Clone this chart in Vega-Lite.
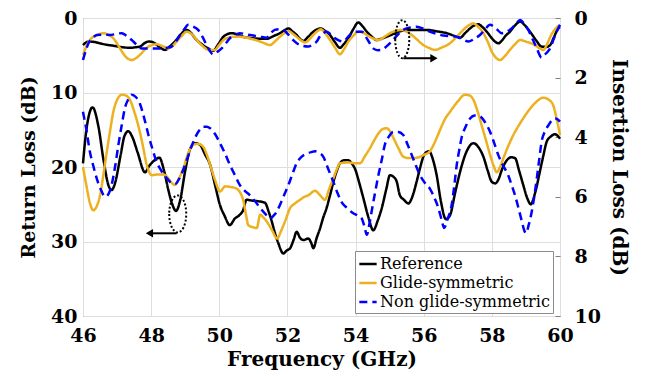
{
  "$schema": "https://vega.github.io/schema/vega-lite/v6.json",
  "width": 477,
  "height": 298,
  "autosize": {"type": "none"},
  "padding": {"left": 83, "top": 18, "right": 88, "bottom": 61},
  "background": "white",
  "config": {
    "font": "DejaVu Serif",
    "view": {"stroke": "#6f6f6f", "strokeWidth": 1},
    "axis": {
      "labelFont": "DejaVu Serif",
      "labelFontWeight": "bold",
      "labelFontSize": 19,
      "labelColor": "#000000",
      "labelFlush": false,
      "titleFont": "DejaVu Serif",
      "titleFontWeight": "bold",
      "titleFontSize": 20,
      "titleColor": "#000000",
      "domain": false,
      "gridColor": "#dedede",
      "gridWidth": 1,
      "gridOpacity": 1,
      "tickColor": "#7f7f7f"
    },
    "legend": {
      "labelFont": "DejaVu Serif",
      "labelFontSize": 16,
      "labelColor": "#000000",
      "labelLimit": 400,
      "symbolType": "stroke",
      "symbolSize": 300,
      "symbolStrokeWidth": 2.5,
      "rowPadding": 1,
      "padding": 3,
      "strokeColor": "#8c8c8c",
      "fillColor": "white",
      "labelOffset": 2
    }
  },
  "datasets": {
    "rl": [
      {"f":46.0,"v":19.5,"s":"Reference"},{"f":46.1,"v":15,"s":"Reference"},{"f":46.28,"v":12.0,"s":"Reference"},{"f":46.45,"v":14.5,"s":"Reference"},{"f":46.6,"v":19,"s":"Reference"},{"f":46.75,"v":22.5,"s":"Reference"},{"f":46.84,"v":23.1,"s":"Reference"},{"f":46.95,"v":22,"s":"Reference"},{"f":47.1,"v":18.5,"s":"Reference"},{"f":47.22,"v":15.8,"s":"Reference"},{"f":47.33,"v":15.2,"s":"Reference"},{"f":47.45,"v":16,"s":"Reference"},{"f":47.6,"v":18,"s":"Reference"},{"f":47.82,"v":20.7,"s":"Reference"},{"f":47.95,"v":19.8,"s":"Reference"},{"f":48.1,"v":19.1,"s":"Reference"},{"f":48.24,"v":18.75,"s":"Reference"},{"f":48.38,"v":20.5,"s":"Reference"},{"f":48.5,"v":23,"s":"Reference"},{"f":48.62,"v":25,"s":"Reference"},{"f":48.73,"v":25.9,"s":"Reference"},{"f":48.85,"v":24.5,"s":"Reference"},{"f":49.0,"v":20.5,"s":"Reference"},{"f":49.15,"v":17.5,"s":"Reference"},{"f":49.29,"v":16.8,"s":"Reference"},{"f":49.43,"v":17,"s":"Reference"},{"f":49.58,"v":18.3,"s":"Reference"},{"f":49.73,"v":19.7,"s":"Reference"},{"f":49.88,"v":22.5,"s":"Reference"},{"f":50.02,"v":25.1,"s":"Reference"},{"f":50.15,"v":26.5,"s":"Reference"},{"f":50.31,"v":27.8,"s":"Reference"},{"f":50.46,"v":26.9,"s":"Reference"},{"f":50.58,"v":26.5,"s":"Reference"},{"f":50.7,"v":25.8,"s":"Reference"},{"f":50.8,"v":24.4,"s":"Reference"},{"f":50.95,"v":24.5,"s":"Reference"},{"f":51.15,"v":24.6,"s":"Reference"},{"f":51.34,"v":24.8,"s":"Reference"},{"f":51.45,"v":26,"s":"Reference"},{"f":51.54,"v":27.3,"s":"Reference"},{"f":51.63,"v":28.8,"s":"Reference"},{"f":51.73,"v":30.2,"s":"Reference"},{"f":51.88,"v":31.6,"s":"Reference"},{"f":51.98,"v":31.2,"s":"Reference"},{"f":52.08,"v":30.9,"s":"Reference"},{"f":52.18,"v":29.8,"s":"Reference"},{"f":52.27,"v":28.7,"s":"Reference"},{"f":52.37,"v":29.5,"s":"Reference"},{"f":52.47,"v":29.8,"s":"Reference"},{"f":52.61,"v":29.6,"s":"Reference"},{"f":52.7,"v":30.2,"s":"Reference"},{"f":52.76,"v":30.9,"s":"Reference"},{"f":52.86,"v":29.5,"s":"Reference"},{"f":52.96,"v":28.2,"s":"Reference"},{"f":53.05,"v":26.8,"s":"Reference"},{"f":53.15,"v":25.5,"s":"Reference"},{"f":53.25,"v":23.8,"s":"Reference"},{"f":53.35,"v":22,"s":"Reference"},{"f":53.45,"v":20.5,"s":"Reference"},{"f":53.54,"v":19.5,"s":"Reference"},{"f":53.66,"v":19.1,"s":"Reference"},{"f":53.79,"v":19.1,"s":"Reference"},{"f":53.9,"v":19.6,"s":"Reference"},{"f":53.98,"v":20.2,"s":"Reference"},{"f":54.1,"v":22,"s":"Reference"},{"f":54.23,"v":24.2,"s":"Reference"},{"f":54.38,"v":26.8,"s":"Reference"},{"f":54.52,"v":28.5,"s":"Reference"},{"f":54.65,"v":27.2,"s":"Reference"},{"f":54.77,"v":25.5,"s":"Reference"},{"f":54.9,"v":23,"s":"Reference"},{"f":55.01,"v":21.1,"s":"Reference"},{"f":55.11,"v":21.3,"s":"Reference"},{"f":55.21,"v":22,"s":"Reference"},{"f":55.3,"v":23.8,"s":"Reference"},{"f":55.42,"v":24.4,"s":"Reference"},{"f":55.55,"v":24.9,"s":"Reference"},{"f":55.68,"v":23.8,"s":"Reference"},{"f":55.79,"v":22,"s":"Reference"},{"f":55.9,"v":20,"s":"Reference"},{"f":55.99,"v":18.6,"s":"Reference"},{"f":56.08,"v":18,"s":"Reference"},{"f":56.16,"v":17.9,"s":"Reference"},{"f":56.27,"v":19,"s":"Reference"},{"f":56.38,"v":21.1,"s":"Reference"},{"f":56.5,"v":24.5,"s":"Reference"},{"f":56.65,"v":27,"s":"Reference"},{"f":56.77,"v":26.5,"s":"Reference"},{"f":56.92,"v":23.5,"s":"Reference"},{"f":57.07,"v":20.6,"s":"Reference"},{"f":57.25,"v":18,"s":"Reference"},{"f":57.46,"v":16.8,"s":"Reference"},{"f":57.6,"v":17.3,"s":"Reference"},{"f":57.75,"v":18.6,"s":"Reference"},{"f":57.88,"v":20.5,"s":"Reference"},{"f":58.0,"v":22,"s":"Reference"},{"f":58.1,"v":22.2,"s":"Reference"},{"f":58.19,"v":21.7,"s":"Reference"},{"f":58.3,"v":20.3,"s":"Reference"},{"f":58.44,"v":19.1,"s":"Reference"},{"f":58.56,"v":18.7,"s":"Reference"},{"f":58.68,"v":18.8,"s":"Reference"},{"f":58.8,"v":20.5,"s":"Reference"},{"f":58.92,"v":22.4,"s":"Reference"},{"f":59.04,"v":24.2,"s":"Reference"},{"f":59.14,"v":25.0,"s":"Reference"},{"f":59.28,"v":23.3,"s":"Reference"},{"f":59.41,"v":20.6,"s":"Reference"},{"f":59.51,"v":18.5,"s":"Reference"},{"f":59.61,"v":16.6,"s":"Reference"},{"f":59.73,"v":15.9,"s":"Reference"},{"f":59.85,"v":15.6,"s":"Reference"},{"f":60.0,"v":16.2,"s":"Reference"},

      {"f":46.0,"v":20,"s":"Glide-symmetric"},{"f":46.1,"v":22.5,"s":"Glide-symmetric"},{"f":46.2,"v":24.8,"s":"Glide-symmetric"},{"f":46.3,"v":25.8,"s":"Glide-symmetric"},{"f":46.4,"v":25.3,"s":"Glide-symmetric"},{"f":46.5,"v":23.8,"s":"Glide-symmetric"},{"f":46.6,"v":21,"s":"Glide-symmetric"},{"f":46.7,"v":17.9,"s":"Glide-symmetric"},{"f":46.8,"v":15,"s":"Glide-symmetric"},{"f":46.89,"v":12.6,"s":"Glide-symmetric"},{"f":47.0,"v":11,"s":"Glide-symmetric"},{"f":47.14,"v":10.3,"s":"Glide-symmetric"},{"f":47.26,"v":10.4,"s":"Glide-symmetric"},{"f":47.38,"v":11,"s":"Glide-symmetric"},{"f":47.5,"v":12.5,"s":"Glide-symmetric"},{"f":47.62,"v":14.4,"s":"Glide-symmetric"},{"f":47.75,"v":17,"s":"Glide-symmetric"},{"f":47.87,"v":19.7,"s":"Glide-symmetric"},{"f":48.02,"v":21.1,"s":"Glide-symmetric"},{"f":48.2,"v":21.0,"s":"Glide-symmetric"},{"f":48.36,"v":21.0,"s":"Glide-symmetric"},{"f":48.5,"v":21.5,"s":"Glide-symmetric"},{"f":48.6,"v":22.1,"s":"Glide-symmetric"},{"f":48.7,"v":22.4,"s":"Glide-symmetric"},{"f":48.82,"v":21.5,"s":"Glide-symmetric"},{"f":48.94,"v":20.2,"s":"Glide-symmetric"},{"f":49.1,"v":18,"s":"Glide-symmetric"},{"f":49.24,"v":17,"s":"Glide-symmetric"},{"f":49.38,"v":16.9,"s":"Glide-symmetric"},{"f":49.53,"v":17.3,"s":"Glide-symmetric"},{"f":49.63,"v":18.3,"s":"Glide-symmetric"},{"f":49.73,"v":19.7,"s":"Glide-symmetric"},{"f":49.88,"v":21.8,"s":"Glide-symmetric"},{"f":50.02,"v":23.3,"s":"Glide-symmetric"},{"f":50.17,"v":22.6,"s":"Glide-symmetric"},{"f":50.35,"v":22.7,"s":"Glide-symmetric"},{"f":50.51,"v":22.9,"s":"Glide-symmetric"},{"f":50.62,"v":23.5,"s":"Glide-symmetric"},{"f":50.7,"v":24.4,"s":"Glide-symmetric"},{"f":50.78,"v":26.3,"s":"Glide-symmetric"},{"f":50.85,"v":27.8,"s":"Glide-symmetric"},{"f":51.0,"v":28.1,"s":"Glide-symmetric"},{"f":51.1,"v":28.2,"s":"Glide-symmetric"},{"f":51.2,"v":26.4,"s":"Glide-symmetric"},{"f":51.3,"v":26.8,"s":"Glide-symmetric"},{"f":51.39,"v":27.3,"s":"Glide-symmetric"},{"f":51.55,"v":28.5,"s":"Glide-symmetric"},{"f":51.7,"v":29.6,"s":"Glide-symmetric"},{"f":51.82,"v":28.5,"s":"Glide-symmetric"},{"f":51.93,"v":27.3,"s":"Glide-symmetric"},{"f":52.08,"v":25.5,"s":"Glide-symmetric"},{"f":52.22,"v":24.9,"s":"Glide-symmetric"},{"f":52.37,"v":24.4,"s":"Glide-symmetric"},{"f":52.5,"v":24.0,"s":"Glide-symmetric"},{"f":52.61,"v":23.8,"s":"Glide-symmetric"},{"f":52.81,"v":23.2,"s":"Glide-symmetric"},{"f":52.96,"v":23.8,"s":"Glide-symmetric"},{"f":53.1,"v":24.4,"s":"Glide-symmetric"},{"f":53.22,"v":23,"s":"Glide-symmetric"},{"f":53.35,"v":21.5,"s":"Glide-symmetric"},{"f":53.45,"v":20.3,"s":"Glide-symmetric"},{"f":53.54,"v":19.5,"s":"Glide-symmetric"},{"f":53.79,"v":19.4,"s":"Glide-symmetric"},{"f":54.0,"v":19.5,"s":"Glide-symmetric"},{"f":54.13,"v":19.5,"s":"Glide-symmetric"},{"f":54.28,"v":18.5,"s":"Glide-symmetric"},{"f":54.42,"v":17.5,"s":"Glide-symmetric"},{"f":54.55,"v":16.4,"s":"Glide-symmetric"},{"f":54.67,"v":15.5,"s":"Glide-symmetric"},{"f":54.8,"v":14.9,"s":"Glide-symmetric"},{"f":54.91,"v":14.8,"s":"Glide-symmetric"},{"f":55.01,"v":15.2,"s":"Glide-symmetric"},{"f":55.11,"v":16.1,"s":"Glide-symmetric"},{"f":55.25,"v":17.4,"s":"Glide-symmetric"},{"f":55.4,"v":18.6,"s":"Glide-symmetric"},{"f":55.55,"v":18.8,"s":"Glide-symmetric"},{"f":55.69,"v":18.8,"s":"Glide-symmetric"},{"f":55.85,"v":18.7,"s":"Glide-symmetric"},{"f":55.99,"v":18.4,"s":"Glide-symmetric"},{"f":56.18,"v":17.9,"s":"Glide-symmetric"},{"f":56.28,"v":17.1,"s":"Glide-symmetric"},{"f":56.38,"v":16.1,"s":"Glide-symmetric"},{"f":56.5,"v":14.8,"s":"Glide-symmetric"},{"f":56.62,"v":13.6,"s":"Glide-symmetric"},{"f":56.77,"v":12.6,"s":"Glide-symmetric"},{"f":57.0,"v":11.2,"s":"Glide-symmetric"},{"f":57.21,"v":10.3,"s":"Glide-symmetric"},{"f":57.35,"v":10.4,"s":"Glide-symmetric"},{"f":57.46,"v":11,"s":"Glide-symmetric"},{"f":57.58,"v":12.5,"s":"Glide-symmetric"},{"f":57.7,"v":14.4,"s":"Glide-symmetric"},{"f":57.82,"v":16.3,"s":"Glide-symmetric"},{"f":57.95,"v":18.4,"s":"Glide-symmetric"},{"f":58.05,"v":19.8,"s":"Glide-symmetric"},{"f":58.14,"v":20.7,"s":"Glide-symmetric"},{"f":58.24,"v":20,"s":"Glide-symmetric"},{"f":58.34,"v":18.8,"s":"Glide-symmetric"},{"f":58.48,"v":17.2,"s":"Glide-symmetric"},{"f":58.63,"v":15.7,"s":"Glide-symmetric"},{"f":58.82,"v":14.2,"s":"Glide-symmetric"},{"f":59.02,"v":12.8,"s":"Glide-symmetric"},{"f":59.25,"v":11.5,"s":"Glide-symmetric"},{"f":59.51,"v":10.7,"s":"Glide-symmetric"},{"f":59.68,"v":11,"s":"Glide-symmetric"},{"f":59.8,"v":11.7,"s":"Glide-symmetric"},{"f":59.9,"v":13.5,"s":"Glide-symmetric"},{"f":60.0,"v":15.7,"s":"Glide-symmetric"},

      {"f":46.0,"v":12.6,"s":"Non glide-symmetric"},{"f":46.1,"v":15,"s":"Non glide-symmetric"},{"f":46.2,"v":17.9,"s":"Non glide-symmetric"},{"f":46.3,"v":19.8,"s":"Non glide-symmetric"},{"f":46.4,"v":21.5,"s":"Non glide-symmetric"},{"f":46.52,"v":23,"s":"Non glide-symmetric"},{"f":46.65,"v":24,"s":"Non glide-symmetric"},{"f":46.75,"v":23.6,"s":"Non glide-symmetric"},{"f":46.84,"v":22.4,"s":"Non glide-symmetric"},{"f":46.94,"v":20,"s":"Non glide-symmetric"},{"f":47.04,"v":17,"s":"Non glide-symmetric"},{"f":47.14,"v":14.3,"s":"Non glide-symmetric"},{"f":47.23,"v":12.1,"s":"Non glide-symmetric"},{"f":47.33,"v":10.9,"s":"Non glide-symmetric"},{"f":47.43,"v":10.3,"s":"Non glide-symmetric"},{"f":47.55,"v":10.6,"s":"Non glide-symmetric"},{"f":47.67,"v":11.5,"s":"Non glide-symmetric"},{"f":47.8,"v":13.5,"s":"Non glide-symmetric"},{"f":47.92,"v":15.7,"s":"Non glide-symmetric"},{"f":48.04,"v":17.6,"s":"Non glide-symmetric"},{"f":48.16,"v":19.3,"s":"Non glide-symmetric"},{"f":48.3,"v":20.5,"s":"Non glide-symmetric"},{"f":48.46,"v":21.5,"s":"Non glide-symmetric"},{"f":48.58,"v":22.1,"s":"Non glide-symmetric"},{"f":48.7,"v":22.3,"s":"Non glide-symmetric"},{"f":48.82,"v":21.6,"s":"Non glide-symmetric"},{"f":48.94,"v":20.4,"s":"Non glide-symmetric"},{"f":49.08,"v":18.6,"s":"Non glide-symmetric"},{"f":49.24,"v":16.6,"s":"Non glide-symmetric"},{"f":49.38,"v":15.3,"s":"Non glide-symmetric"},{"f":49.53,"v":14.6,"s":"Non glide-symmetric"},{"f":49.63,"v":14.6,"s":"Non glide-symmetric"},{"f":49.73,"v":14.8,"s":"Non glide-symmetric"},{"f":49.88,"v":15.6,"s":"Non glide-symmetric"},{"f":50.02,"v":16.8,"s":"Non glide-symmetric"},{"f":50.17,"v":18.2,"s":"Non glide-symmetric"},{"f":50.31,"v":19.7,"s":"Non glide-symmetric"},{"f":50.46,"v":21.1,"s":"Non glide-symmetric"},{"f":50.6,"v":22.4,"s":"Non glide-symmetric"},{"f":50.75,"v":23.2,"s":"Non glide-symmetric"},{"f":50.9,"v":23.8,"s":"Non glide-symmetric"},{"f":51.05,"v":24.6,"s":"Non glide-symmetric"},{"f":51.2,"v":25.5,"s":"Non glide-symmetric"},{"f":51.35,"v":26.3,"s":"Non glide-symmetric"},{"f":51.49,"v":26.9,"s":"Non glide-symmetric"},{"f":51.6,"v":26.5,"s":"Non glide-symmetric"},{"f":51.7,"v":25.9,"s":"Non glide-symmetric"},{"f":51.78,"v":25.1,"s":"Non glide-symmetric"},{"f":51.9,"v":23.8,"s":"Non glide-symmetric"},{"f":52.03,"v":22.4,"s":"Non glide-symmetric"},{"f":52.15,"v":20.9,"s":"Non glide-symmetric"},{"f":52.27,"v":19.5,"s":"Non glide-symmetric"},{"f":52.42,"v":18.6,"s":"Non glide-symmetric"},{"f":52.57,"v":18.2,"s":"Non glide-symmetric"},{"f":52.7,"v":18,"s":"Non glide-symmetric"},{"f":52.81,"v":17.9,"s":"Non glide-symmetric"},{"f":52.93,"v":18.1,"s":"Non glide-symmetric"},{"f":53.05,"v":18.6,"s":"Non glide-symmetric"},{"f":53.2,"v":20.3,"s":"Non glide-symmetric"},{"f":53.35,"v":22,"s":"Non glide-symmetric"},{"f":53.47,"v":23.5,"s":"Non glide-symmetric"},{"f":53.59,"v":24.7,"s":"Non glide-symmetric"},{"f":53.75,"v":25.5,"s":"Non glide-symmetric"},{"f":53.93,"v":26.2,"s":"Non glide-symmetric"},{"f":54.05,"v":26.5,"s":"Non glide-symmetric"},{"f":54.18,"v":26.9,"s":"Non glide-symmetric"},{"f":54.26,"v":28,"s":"Non glide-symmetric"},{"f":54.33,"v":29.1,"s":"Non glide-symmetric"},{"f":54.4,"v":27.8,"s":"Non glide-symmetric"},{"f":54.47,"v":26,"s":"Non glide-symmetric"},{"f":54.57,"v":23.5,"s":"Non glide-symmetric"},{"f":54.67,"v":21.1,"s":"Non glide-symmetric"},{"f":54.77,"v":19,"s":"Non glide-symmetric"},{"f":54.86,"v":17,"s":"Non glide-symmetric"},{"f":54.98,"v":15.9,"s":"Non glide-symmetric"},{"f":55.11,"v":15.3,"s":"Non glide-symmetric"},{"f":55.25,"v":15.3,"s":"Non glide-symmetric"},{"f":55.4,"v":15.7,"s":"Non glide-symmetric"},{"f":55.52,"v":16.9,"s":"Non glide-symmetric"},{"f":55.65,"v":18.4,"s":"Non glide-symmetric"},{"f":55.77,"v":19.8,"s":"Non glide-symmetric"},{"f":55.89,"v":21.1,"s":"Non glide-symmetric"},{"f":56.03,"v":22.1,"s":"Non glide-symmetric"},{"f":56.18,"v":22.9,"s":"Non glide-symmetric"},{"f":56.3,"v":24,"s":"Non glide-symmetric"},{"f":56.43,"v":25.5,"s":"Non glide-symmetric"},{"f":56.52,"v":27,"s":"Non glide-symmetric"},{"f":56.6,"v":28.2,"s":"Non glide-symmetric"},{"f":56.7,"v":27,"s":"Non glide-symmetric"},{"f":56.82,"v":25.1,"s":"Non glide-symmetric"},{"f":56.9,"v":22.4,"s":"Non glide-symmetric"},{"f":56.97,"v":19.7,"s":"Non glide-symmetric"},{"f":57.04,"v":17.8,"s":"Non glide-symmetric"},{"f":57.11,"v":16.1,"s":"Non glide-symmetric"},{"f":57.23,"v":14.6,"s":"Non glide-symmetric"},{"f":57.36,"v":13.5,"s":"Non glide-symmetric"},{"f":57.5,"v":13.1,"s":"Non glide-symmetric"},{"f":57.65,"v":13.2,"s":"Non glide-symmetric"},{"f":57.8,"v":14,"s":"Non glide-symmetric"},{"f":57.95,"v":15.3,"s":"Non glide-symmetric"},{"f":58.07,"v":16.8,"s":"Non glide-symmetric"},{"f":58.19,"v":18.4,"s":"Non glide-symmetric"},{"f":58.33,"v":19.8,"s":"Non glide-symmetric"},{"f":58.48,"v":21.1,"s":"Non glide-symmetric"},{"f":58.58,"v":22.4,"s":"Non glide-symmetric"},{"f":58.68,"v":23.8,"s":"Non glide-symmetric"},{"f":58.78,"v":25.5,"s":"Non glide-symmetric"},{"f":58.88,"v":27.3,"s":"Non glide-symmetric"},{"f":58.95,"v":28.5,"s":"Non glide-symmetric"},{"f":59.0,"v":28.9,"s":"Non glide-symmetric"},{"f":59.08,"v":27.8,"s":"Non glide-symmetric"},{"f":59.17,"v":26,"s":"Non glide-symmetric"},{"f":59.25,"v":23.8,"s":"Non glide-symmetric"},{"f":59.32,"v":21.5,"s":"Non glide-symmetric"},{"f":59.39,"v":19,"s":"Non glide-symmetric"},{"f":59.46,"v":16.6,"s":"Non glide-symmetric"},{"f":59.56,"v":15.2,"s":"Non glide-symmetric"},{"f":59.66,"v":14.4,"s":"Non glide-symmetric"},{"f":59.75,"v":13.8,"s":"Non glide-symmetric"},{"f":59.85,"v":13.5,"s":"Non glide-symmetric"},{"f":59.93,"v":13.6,"s":"Non glide-symmetric"},{"f":60.0,"v":13.9,"s":"Non glide-symmetric"}
    ],
    "il": [
      {"f":46.0,"v":0.91,"s":"Reference"},{"f":46.08,"v":0.83,"s":"Reference"},{"f":46.16,"v":0.79,"s":"Reference"},{"f":46.3,"v":0.8,"s":"Reference"},{"f":46.5,"v":0.85,"s":"Reference"},{"f":46.7,"v":0.9,"s":"Reference"},{"f":46.89,"v":0.93,"s":"Reference"},{"f":47.1,"v":0.97,"s":"Reference"},{"f":47.38,"v":1.0,"s":"Reference"},{"f":47.55,"v":0.98,"s":"Reference"},{"f":47.67,"v":0.96,"s":"Reference"},{"f":47.8,"v":0.85,"s":"Reference"},{"f":47.92,"v":0.79,"s":"Reference"},{"f":48.02,"v":0.8,"s":"Reference"},{"f":48.11,"v":0.85,"s":"Reference"},{"f":48.25,"v":0.98,"s":"Reference"},{"f":48.41,"v":1.07,"s":"Reference"},{"f":48.55,"v":0.95,"s":"Reference"},{"f":48.7,"v":0.79,"s":"Reference"},{"f":48.87,"v":0.55,"s":"Reference"},{"f":49.04,"v":0.40,"s":"Reference"},{"f":49.17,"v":0.5,"s":"Reference"},{"f":49.29,"v":0.68,"s":"Reference"},{"f":49.45,"v":0.85,"s":"Reference"},{"f":49.58,"v":0.96,"s":"Reference"},{"f":49.7,"v":1.04,"s":"Reference"},{"f":49.82,"v":1.1,"s":"Reference"},{"f":49.97,"v":0.88,"s":"Reference"},{"f":50.12,"v":0.63,"s":"Reference"},{"f":50.24,"v":0.54,"s":"Reference"},{"f":50.36,"v":0.51,"s":"Reference"},{"f":50.55,"v":0.56,"s":"Reference"},{"f":50.7,"v":0.63,"s":"Reference"},{"f":50.9,"v":0.67,"s":"Reference"},{"f":51.1,"v":0.69,"s":"Reference"},{"f":51.39,"v":0.70,"s":"Reference"},{"f":51.6,"v":0.6,"s":"Reference"},{"f":51.78,"v":0.51,"s":"Reference"},{"f":51.9,"v":0.42,"s":"Reference"},{"f":52.03,"v":0.35,"s":"Reference"},{"f":52.15,"v":0.45,"s":"Reference"},{"f":52.27,"v":0.57,"s":"Reference"},{"f":52.37,"v":0.7,"s":"Reference"},{"f":52.47,"v":0.77,"s":"Reference"},{"f":52.6,"v":0.64,"s":"Reference"},{"f":52.76,"v":0.46,"s":"Reference"},{"f":52.88,"v":0.38,"s":"Reference"},{"f":52.98,"v":0.35,"s":"Reference"},{"f":53.1,"v":0.43,"s":"Reference"},{"f":53.25,"v":0.57,"s":"Reference"},{"f":53.4,"v":0.82,"s":"Reference"},{"f":53.54,"v":1.0,"s":"Reference"},{"f":53.66,"v":0.87,"s":"Reference"},{"f":53.79,"v":0.68,"s":"Reference"},{"f":53.93,"v":0.38,"s":"Reference"},{"f":54.08,"v":0.15,"s":"Reference"},{"f":54.2,"v":0.27,"s":"Reference"},{"f":54.33,"v":0.46,"s":"Reference"},{"f":54.48,"v":0.63,"s":"Reference"},{"f":54.62,"v":0.74,"s":"Reference"},{"f":54.77,"v":0.69,"s":"Reference"},{"f":54.91,"v":0.63,"s":"Reference"},{"f":55.1,"v":0.54,"s":"Reference"},{"f":55.26,"v":0.46,"s":"Reference"},{"f":55.5,"v":0.40,"s":"Reference"},{"f":55.8,"v":0.40,"s":"Reference"},{"f":56.09,"v":0.40,"s":"Reference"},{"f":56.4,"v":0.45,"s":"Reference"},{"f":56.68,"v":0.51,"s":"Reference"},{"f":56.9,"v":0.6,"s":"Reference"},{"f":57.07,"v":0.66,"s":"Reference"},{"f":57.22,"v":0.5,"s":"Reference"},{"f":57.36,"v":0.35,"s":"Reference"},{"f":57.48,"v":0.25,"s":"Reference"},{"f":57.6,"v":0.21,"s":"Reference"},{"f":57.72,"v":0.3,"s":"Reference"},{"f":57.85,"v":0.46,"s":"Reference"},{"f":58.0,"v":0.68,"s":"Reference"},{"f":58.1,"v":0.8,"s":"Reference"},{"f":58.19,"v":0.85,"s":"Reference"},{"f":58.3,"v":0.75,"s":"Reference"},{"f":58.4,"v":0.6,"s":"Reference"},{"f":58.53,"v":0.46,"s":"Reference"},{"f":58.68,"v":0.25,"s":"Reference"},{"f":58.83,"v":0.12,"s":"Reference"},{"f":58.97,"v":0.25,"s":"Reference"},{"f":59.12,"v":0.46,"s":"Reference"},{"f":59.3,"v":0.75,"s":"Reference"},{"f":59.46,"v":0.96,"s":"Reference"},{"f":59.6,"v":0.97,"s":"Reference"},{"f":59.71,"v":0.91,"s":"Reference"},{"f":59.82,"v":0.65,"s":"Reference"},{"f":59.95,"v":0.35,"s":"Reference"},{"f":60.0,"v":0.3,"s":"Reference"},

      {"f":46.0,"v":1.24,"s":"Glide-symmetric"},{"f":46.1,"v":0.95,"s":"Glide-symmetric"},{"f":46.2,"v":0.74,"s":"Glide-symmetric"},{"f":46.4,"v":0.58,"s":"Glide-symmetric"},{"f":46.6,"v":0.51,"s":"Glide-symmetric"},{"f":46.75,"v":0.57,"s":"Glide-symmetric"},{"f":46.89,"v":0.68,"s":"Glide-symmetric"},{"f":47.05,"v":0.95,"s":"Glide-symmetric"},{"f":47.18,"v":1.19,"s":"Glide-symmetric"},{"f":47.3,"v":1.35,"s":"Glide-symmetric"},{"f":47.43,"v":1.41,"s":"Glide-symmetric"},{"f":47.55,"v":1.35,"s":"Glide-symmetric"},{"f":47.67,"v":1.24,"s":"Glide-symmetric"},{"f":47.8,"v":1.08,"s":"Glide-symmetric"},{"f":47.92,"v":0.96,"s":"Glide-symmetric"},{"f":48.05,"v":0.9,"s":"Glide-symmetric"},{"f":48.16,"v":0.88,"s":"Glide-symmetric"},{"f":48.35,"v":0.95,"s":"Glide-symmetric"},{"f":48.5,"v":1.02,"s":"Glide-symmetric"},{"f":48.62,"v":0.95,"s":"Glide-symmetric"},{"f":48.75,"v":0.79,"s":"Glide-symmetric"},{"f":48.9,"v":0.6,"s":"Glide-symmetric"},{"f":49.04,"v":0.46,"s":"Glide-symmetric"},{"f":49.2,"v":0.55,"s":"Glide-symmetric"},{"f":49.34,"v":0.74,"s":"Glide-symmetric"},{"f":49.5,"v":0.93,"s":"Glide-symmetric"},{"f":49.68,"v":1.07,"s":"Glide-symmetric"},{"f":49.87,"v":1.07,"s":"Glide-symmetric"},{"f":50.0,"v":0.9,"s":"Glide-symmetric"},{"f":50.12,"v":0.74,"s":"Glide-symmetric"},{"f":50.25,"v":0.67,"s":"Glide-symmetric"},{"f":50.41,"v":0.63,"s":"Glide-symmetric"},{"f":50.6,"v":0.63,"s":"Glide-symmetric"},{"f":50.8,"v":0.66,"s":"Glide-symmetric"},{"f":51.0,"v":0.72,"s":"Glide-symmetric"},{"f":51.2,"v":0.79,"s":"Glide-symmetric"},{"f":51.35,"v":0.86,"s":"Glide-symmetric"},{"f":51.49,"v":0.91,"s":"Glide-symmetric"},{"f":51.62,"v":0.8,"s":"Glide-symmetric"},{"f":51.78,"v":0.63,"s":"Glide-symmetric"},{"f":51.9,"v":0.52,"s":"Glide-symmetric"},{"f":52.03,"v":0.44,"s":"Glide-symmetric"},{"f":52.17,"v":0.54,"s":"Glide-symmetric"},{"f":52.32,"v":0.68,"s":"Glide-symmetric"},{"f":52.42,"v":0.77,"s":"Glide-symmetric"},{"f":52.52,"v":0.82,"s":"Glide-symmetric"},{"f":52.64,"v":0.72,"s":"Glide-symmetric"},{"f":52.76,"v":0.57,"s":"Glide-symmetric"},{"f":52.88,"v":0.44,"s":"Glide-symmetric"},{"f":52.98,"v":0.38,"s":"Glide-symmetric"},{"f":53.1,"v":0.5,"s":"Glide-symmetric"},{"f":53.25,"v":0.74,"s":"Glide-symmetric"},{"f":53.4,"v":1.0,"s":"Glide-symmetric"},{"f":53.54,"v":1.22,"s":"Glide-symmetric"},{"f":53.66,"v":1.05,"s":"Glide-symmetric"},{"f":53.79,"v":0.79,"s":"Glide-symmetric"},{"f":53.93,"v":0.6,"s":"Glide-symmetric"},{"f":54.08,"v":0.46,"s":"Glide-symmetric"},{"f":54.2,"v":0.48,"s":"Glide-symmetric"},{"f":54.33,"v":0.57,"s":"Glide-symmetric"},{"f":54.5,"v":0.68,"s":"Glide-symmetric"},{"f":54.67,"v":0.74,"s":"Glide-symmetric"},{"f":54.85,"v":0.63,"s":"Glide-symmetric"},{"f":55.01,"v":0.51,"s":"Glide-symmetric"},{"f":55.18,"v":0.43,"s":"Glide-symmetric"},{"f":55.35,"v":0.40,"s":"Glide-symmetric"},{"f":55.5,"v":0.46,"s":"Glide-symmetric"},{"f":55.65,"v":0.57,"s":"Glide-symmetric"},{"f":55.82,"v":0.74,"s":"Glide-symmetric"},{"f":55.99,"v":0.91,"s":"Glide-symmetric"},{"f":56.15,"v":1.0,"s":"Glide-symmetric"},{"f":56.33,"v":1.07,"s":"Glide-symmetric"},{"f":56.55,"v":0.98,"s":"Glide-symmetric"},{"f":56.77,"v":0.85,"s":"Glide-symmetric"},{"f":56.95,"v":0.65,"s":"Glide-symmetric"},{"f":57.11,"v":0.46,"s":"Glide-symmetric"},{"f":57.28,"v":0.28,"s":"Glide-symmetric"},{"f":57.46,"v":0.18,"s":"Glide-symmetric"},{"f":57.6,"v":0.3,"s":"Glide-symmetric"},{"f":57.75,"v":0.51,"s":"Glide-symmetric"},{"f":57.88,"v":0.8,"s":"Glide-symmetric"},{"f":58.0,"v":1.13,"s":"Glide-symmetric"},{"f":58.12,"v":1.33,"s":"Glide-symmetric"},{"f":58.24,"v":1.41,"s":"Glide-symmetric"},{"f":58.38,"v":1.28,"s":"Glide-symmetric"},{"f":58.53,"v":1.07,"s":"Glide-symmetric"},{"f":58.68,"v":0.88,"s":"Glide-symmetric"},{"f":58.83,"v":0.74,"s":"Glide-symmetric"},{"f":59.02,"v":0.8,"s":"Glide-symmetric"},{"f":59.22,"v":0.88,"s":"Glide-symmetric"},{"f":59.38,"v":1.0,"s":"Glide-symmetric"},{"f":59.51,"v":1.07,"s":"Glide-symmetric"},{"f":59.62,"v":0.88,"s":"Glide-symmetric"},{"f":59.72,"v":0.62,"s":"Glide-symmetric"},{"f":59.8,"v":0.46,"s":"Glide-symmetric"},{"f":59.9,"v":0.32,"s":"Glide-symmetric"},{"f":60.0,"v":0.23,"s":"Glide-symmetric"},

      {"f":46.0,"v":1.41,"s":"Non glide-symmetric"},{"f":46.08,"v":1.1,"s":"Non glide-symmetric"},{"f":46.16,"v":0.85,"s":"Non glide-symmetric"},{"f":46.28,"v":0.68,"s":"Non glide-symmetric"},{"f":46.4,"v":0.57,"s":"Non glide-symmetric"},{"f":46.6,"v":0.56,"s":"Non glide-symmetric"},{"f":46.8,"v":0.57,"s":"Non glide-symmetric"},{"f":46.97,"v":0.53,"s":"Non glide-symmetric"},{"f":47.14,"v":0.51,"s":"Non glide-symmetric"},{"f":47.28,"v":0.6,"s":"Non glide-symmetric"},{"f":47.43,"v":0.74,"s":"Non glide-symmetric"},{"f":47.58,"v":0.9,"s":"Non glide-symmetric"},{"f":47.72,"v":1.02,"s":"Non glide-symmetric"},{"f":48.02,"v":1.02,"s":"Non glide-symmetric"},{"f":48.31,"v":1.02,"s":"Non glide-symmetric"},{"f":48.47,"v":1.0,"s":"Non glide-symmetric"},{"f":48.6,"v":0.96,"s":"Non glide-symmetric"},{"f":48.72,"v":0.8,"s":"Non glide-symmetric"},{"f":48.85,"v":0.57,"s":"Non glide-symmetric"},{"f":48.97,"v":0.38,"s":"Non glide-symmetric"},{"f":49.09,"v":0.23,"s":"Non glide-symmetric"},{"f":49.22,"v":0.28,"s":"Non glide-symmetric"},{"f":49.38,"v":0.40,"s":"Non glide-symmetric"},{"f":49.5,"v":0.62,"s":"Non glide-symmetric"},{"f":49.63,"v":0.91,"s":"Non glide-symmetric"},{"f":49.72,"v":1.1,"s":"Non glide-symmetric"},{"f":49.82,"v":1.22,"s":"Non glide-symmetric"},{"f":49.95,"v":1.13,"s":"Non glide-symmetric"},{"f":50.07,"v":1.02,"s":"Non glide-symmetric"},{"f":50.2,"v":0.84,"s":"Non glide-symmetric"},{"f":50.31,"v":0.68,"s":"Non glide-symmetric"},{"f":50.45,"v":0.58,"s":"Non glide-symmetric"},{"f":50.6,"v":0.51,"s":"Non glide-symmetric"},{"f":50.8,"v":0.55,"s":"Non glide-symmetric"},{"f":51.0,"v":0.59,"s":"Non glide-symmetric"},{"f":51.2,"v":0.63,"s":"Non glide-symmetric"},{"f":51.39,"v":0.66,"s":"Non glide-symmetric"},{"f":51.5,"v":0.52,"s":"Non glide-symmetric"},{"f":51.63,"v":0.40,"s":"Non glide-symmetric"},{"f":51.75,"v":0.38,"s":"Non glide-symmetric"},{"f":51.88,"v":0.40,"s":"Non glide-symmetric"},{"f":52.02,"v":0.55,"s":"Non glide-symmetric"},{"f":52.17,"v":0.74,"s":"Non glide-symmetric"},{"f":52.37,"v":0.91,"s":"Non glide-symmetric"},{"f":52.61,"v":0.96,"s":"Non glide-symmetric"},{"f":52.75,"v":0.88,"s":"Non glide-symmetric"},{"f":52.86,"v":0.79,"s":"Non glide-symmetric"},{"f":52.96,"v":0.6,"s":"Non glide-symmetric"},{"f":53.05,"v":0.51,"s":"Non glide-symmetric"},{"f":53.15,"v":0.46,"s":"Non glide-symmetric"},{"f":53.27,"v":0.55,"s":"Non glide-symmetric"},{"f":53.4,"v":0.68,"s":"Non glide-symmetric"},{"f":53.52,"v":0.76,"s":"Non glide-symmetric"},{"f":53.64,"v":0.79,"s":"Non glide-symmetric"},{"f":53.76,"v":0.66,"s":"Non glide-symmetric"},{"f":53.89,"v":0.51,"s":"Non glide-symmetric"},{"f":54.05,"v":0.46,"s":"Non glide-symmetric"},{"f":54.18,"v":0.46,"s":"Non glide-symmetric"},{"f":54.35,"v":0.72,"s":"Non glide-symmetric"},{"f":54.52,"v":1.02,"s":"Non glide-symmetric"},{"f":54.65,"v":1.08,"s":"Non glide-symmetric"},{"f":54.77,"v":1.07,"s":"Non glide-symmetric"},{"f":54.9,"v":0.96,"s":"Non glide-symmetric"},{"f":55.06,"v":0.79,"s":"Non glide-symmetric"},{"f":55.22,"v":0.58,"s":"Non glide-symmetric"},{"f":55.4,"v":0.40,"s":"Non glide-symmetric"},{"f":55.6,"v":0.32,"s":"Non glide-symmetric"},{"f":55.79,"v":0.29,"s":"Non glide-symmetric"},{"f":56.0,"v":0.36,"s":"Non glide-symmetric"},{"f":56.18,"v":0.46,"s":"Non glide-symmetric"},{"f":56.4,"v":0.54,"s":"Non glide-symmetric"},{"f":56.58,"v":0.59,"s":"Non glide-symmetric"},{"f":56.8,"v":0.61,"s":"Non glide-symmetric"},{"f":56.97,"v":0.63,"s":"Non glide-symmetric"},{"f":57.15,"v":0.72,"s":"Non glide-symmetric"},{"f":57.31,"v":0.79,"s":"Non glide-symmetric"},{"f":57.48,"v":0.7,"s":"Non glide-symmetric"},{"f":57.65,"v":0.57,"s":"Non glide-symmetric"},{"f":57.8,"v":0.38,"s":"Non glide-symmetric"},{"f":57.95,"v":0.23,"s":"Non glide-symmetric"},{"f":58.12,"v":0.35,"s":"Non glide-symmetric"},{"f":58.29,"v":0.51,"s":"Non glide-symmetric"},{"f":58.44,"v":0.45,"s":"Non glide-symmetric"},{"f":58.58,"v":0.35,"s":"Non glide-symmetric"},{"f":58.7,"v":0.2,"s":"Non glide-symmetric"},{"f":58.83,"v":0.07,"s":"Non glide-symmetric"},{"f":58.95,"v":0.2,"s":"Non glide-symmetric"},{"f":59.07,"v":0.40,"s":"Non glide-symmetric"},{"f":59.2,"v":0.72,"s":"Non glide-symmetric"},{"f":59.32,"v":1.02,"s":"Non glide-symmetric"},{"f":59.46,"v":1.33,"s":"Non glide-symmetric"},{"f":59.58,"v":1.2,"s":"Non glide-symmetric"},{"f":59.71,"v":1.02,"s":"Non glide-symmetric"},{"f":59.8,"v":0.75,"s":"Non glide-symmetric"},{"f":59.9,"v":0.46,"s":"Non glide-symmetric"},{"f":60.0,"v":0.23,"s":"Non glide-symmetric"}
    ]
  },
  "encoding": {
    "x": {
      "field": "f",
      "type": "quantitative",
      "scale": {"domain": [46, 60], "nice": false},
      "axis": {"values": [46, 48, 50, 52, 54, 56, 58, 60], "grid": true, "ticks": false, "labelPadding": 10, "title": "Frequency (GHz)", "titlePadding": 4}
    }
  },
  "layer": [
    {
      "encoding": {
        "y": {
          "field": "v",
          "type": "quantitative",
          "scale": {"domain": [0, 40], "reverse": true, "nice": false},
          "axis": {"orient": "left", "values": [0, 10, 20, 30, 40], "grid": true, "ticks": false, "labelPadding": 6, "title": "Return Loss (dB)", "titleFontSize": 19, "titlePadding": 12}
        }
      },
      "layer": [
        {
          "data": {"name": "rl"},
          "mark": {"type": "line", "strokeWidth": 2.5, "interpolate": "monotone"},
          "encoding": {
            "color": {"field": "s", "type": "nominal", "scale": {"domain": ["Reference", "Glide-symmetric", "Non glide-symmetric"], "range": ["#000000", "#EDB120", "#0000FF"]}, "legend": {"title": null, "orient": "none", "legendX": 272, "legendY": 233}},
            "strokeDash": {"field": "s", "type": "nominal", "scale": {"domain": ["Reference", "Glide-symmetric", "Non glide-symmetric"], "range": [[1, 0], [1, 0], [8, 5]]}, "legend": {"title": null, "orient": "none", "legendX": 272, "legendY": 233}}
          }
        },
        {
          "data": {"values": [{"f": 48.78, "v": 26.3}]},
          "mark": {"type": "point", "shape": "M-0.46,0A0.46,1,0,1,0,0.46,0A0.46,1,0,1,0,-0.46,0Z", "size": 1369, "filled": false, "stroke": "#000000", "strokeWidth": 2, "strokeDash": [2, 2], "opacity": 1}
        },
        {
          "data": {"values": [{"f": 48.75, "f2": 48.0, "v": 28.9}]},
          "mark": {"type": "rule", "strokeWidth": 2, "color": "#000000"},
          "encoding": {"x2": {"field": "f2"}}
        },
        {
          "data": {"values": [{"f": 47.95, "v": 28.9}]},
          "mark": {"type": "point", "shape": "triangle-left", "size": 70, "filled": true, "color": "#000000", "opacity": 1}
        }
      ]
    },
    {
      "encoding": {
        "y": {
          "field": "v",
          "type": "quantitative",
          "scale": {"domain": [0, 10], "reverse": true, "nice": false},
          "axis": {"orient": "right", "values": [0, 2, 4, 6, 8, 10], "grid": false, "ticks": true, "tickSize": -5, "tickColor": "#7f7f7f", "labelPadding": 19, "title": "Insertion Loss (dB)", "titlePadding": 8}
        }
      },
      "layer": [
        {
          "data": {"name": "il"},
          "mark": {"type": "line", "strokeWidth": 2.5, "interpolate": "monotone"},
          "encoding": {
            "color": {"field": "s", "type": "nominal", "scale": {"domain": ["Reference", "Glide-symmetric", "Non glide-symmetric"], "range": ["#000000", "#EDB120", "#0000FF"]}, "legend": {"title": null, "orient": "none", "legendX": 272, "legendY": 233}},
            "strokeDash": {"field": "s", "type": "nominal", "scale": {"domain": ["Reference", "Glide-symmetric", "Non glide-symmetric"], "range": [[1, 0], [1, 0], [8, 5]]}, "legend": {"title": null, "orient": "none", "legendX": 272, "legendY": 233}}
          }
        },
        {
          "data": {"values": [{"f": 55.37, "v": 0.71}]},
          "mark": {"type": "point", "shape": "M-0.37,0A0.37,1,0,1,0,0.37,0A0.37,1,0,1,0,-0.37,0Z", "size": 1444, "filled": false, "stroke": "#000000", "strokeWidth": 2, "strokeDash": [2, 2], "opacity": 1}
        },
        {
          "data": {"values": [{"f": 55.4, "f2": 56.25, "v": 1.35}]},
          "mark": {"type": "rule", "strokeWidth": 2, "color": "#000000"},
          "encoding": {"x2": {"field": "f2"}}
        },
        {
          "data": {"values": [{"f": 56.3, "v": 1.35}]},
          "mark": {"type": "point", "shape": "triangle-right", "size": 70, "filled": true, "color": "#000000", "opacity": 1}
        }
      ]
    }
  ],
  "resolve": {"scale": {"y": "independent"}}
}
